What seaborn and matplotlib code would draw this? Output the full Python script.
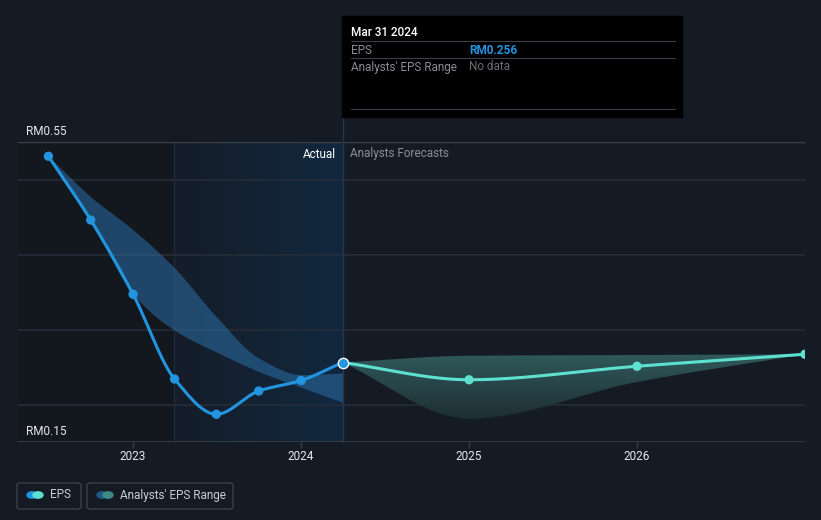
#!/usr/bin/env python3
"""EPS history and analyst forecast chart (dark theme)."""

import matplotlib

matplotlib.use("Agg")

import matplotlib.pyplot as plt
import numpy as np
import seaborn as sns
from matplotlib.patches import FancyBboxPatch, Rectangle, Circle

# ---- data -------------------------------------------------------------
hist_dates = [2022.496, 2022.748, 2023.0, 2023.247, 2023.496, 2023.748, 2024.0, 2024.247]
hist_eps = [0.531, 0.446, 0.347, 0.234, 0.187, 0.218, 0.232, 0.256]
hist_range_low = [0.531, 0.446, 0.347, 0.299, 0.270, 0.244, 0.223, 0.203]
hist_range_high = [0.531, 0.477, 0.433, 0.382, 0.317, 0.262, 0.240, 0.242]

fc_dates = [2024.247, 2025.0, 2026.0, 2027.0]
fc_eps = [0.256, 0.233, 0.251, 0.267]
fc_range_low = [0.256, 0.181, 0.230, 0.267]
fc_range_high = [0.256, 0.265, 0.266, 0.267]

year_ticks = [2023, 2024, 2025, 2026]
y_labels = {0.55: "RM0.55", 0.15: "RM0.15"}

BG = "#151b25"
BLUE = "#2394df"
TEAL = "#5de0cf"
OUTPUT = "out.png"


def monotone_curve(x, y, n=300):
    """Monotone cubic (Fritsch-Carlson) path through the points, for drawing."""
    x = np.asarray(x, float)
    y = np.asarray(y, float)
    h = np.diff(x)
    d = np.diff(y) / h
    m = np.zeros_like(y)
    m[0], m[-1] = d[0], d[-1]
    for i in range(1, len(x) - 1):
        if d[i - 1] * d[i] <= 0:
            m[i] = 0.0
        else:
            w1 = 2 * h[i] + h[i - 1]
            w2 = h[i] + 2 * h[i - 1]
            m[i] = (w1 + w2) / (w1 / d[i - 1] + w2 / d[i])
    xs = np.linspace(x[0], x[-1], n)
    idx = np.clip(np.searchsorted(x, xs) - 1, 0, len(x) - 2)
    t = (xs - x[idx]) / h[idx]
    h00 = 2 * t**3 - 3 * t**2 + 1
    h10 = t**3 - 2 * t**2 + t
    h01 = -2 * t**3 + 3 * t**2
    h11 = t**3 - t**2
    ys = h00 * y[idx] + h10 * h[idx] * m[idx] + h01 * y[idx + 1] + h11 * h[idx] * m[idx + 1]
    return xs, ys


sns.set_theme(style="dark")
plt.rcParams["font.family"] = ["Roboto", "DejaVu Sans"]

fig = plt.figure(figsize=(8.21, 5.2), dpi=100)
fig.patch.set_facecolor(BG)
ax = fig.add_axes([18 / 821, 78 / 520, 787 / 821, 300 / 520])
ax.set_facecolor(BG)

x_min, x_max = 2022.315, 2027.0
ax.set_xlim(x_min, x_max)
ax.set_ylim(0.15, 0.55)

# shaded background regions
split = 2023.244
ax.add_patch(Rectangle((x_min, 0.15), split - x_min, 0.40, color="#13171e", zorder=0, lw=0))
grad = np.linspace(0, 1, 256).reshape(1, -1)
cmap = matplotlib.colors.LinearSegmentedColormap.from_list("hl", ["#151d28", "#12283f"])
ax.imshow(grad, extent=[split, 2024.247, 0.15, 0.55], aspect="auto", cmap=cmap,
          zorder=0.5, interpolation="bicubic")
ax.plot([split, split], [0.15, 0.55], color="#1d2c3d", lw=1, zorder=0.6)

# grid lines
for gy in [0.2, 0.3, 0.4, 0.5]:
    ax.axhline(gy, color="#262d38", lw=1.2, zorder=1)
ax.axhline(0.55, color="#3a404a", lw=1, zorder=1)
ax.axhline(0.15, color="#3a404a", lw=1.2, zorder=1)

# analysts' range, historical
hx, hlo = monotone_curve(hist_dates, hist_range_low)
_, hhi = monotone_curve(hist_dates, hist_range_high)
ax.fill_between(hx, hlo, hhi, color="#2a6ea6", alpha=0.55, lw=0, zorder=2)

# analysts' range, forecast with fade towards the bottom
fx, flo = monotone_curve(fc_dates, fc_range_low)
_, fhi = monotone_curve(fc_dates, fc_range_high)
poly = ax.fill_between(fx, flo, fhi, color="none", lw=0, zorder=2)
vgrad = np.linspace(1, 0, 256).reshape(-1, 1)
fcmap = matplotlib.colors.LinearSegmentedColormap.from_list("fc", ["#1d2e34", "#30595a"])
img = ax.imshow(vgrad, extent=[fc_dates[0], fc_dates[-1], min(fc_range_low), max(fc_range_high)],
                aspect="auto", cmap=fcmap, zorder=2, interpolation="bicubic")
img.set_clip_path(poly.get_paths()[0], transform=ax.transData)

# EPS lines
sx, sy = monotone_curve(hist_dates, hist_eps)
sns.lineplot(x=sx, y=sy, color=BLUE, lw=2.2, ax=ax, zorder=4)
sns.scatterplot(x=hist_dates[:-1], y=hist_eps[:-1], color=BLUE, s=45, edgecolor="none", ax=ax, zorder=5)
tx, ty = monotone_curve(fc_dates, fc_eps)
sns.lineplot(x=tx, y=ty, color=TEAL, lw=2.2, ax=ax, zorder=4)
sns.scatterplot(x=fc_dates[1:], y=fc_eps[1:], color=TEAL, s=45, edgecolor="none", ax=ax, zorder=5)
ax.scatter([hist_dates[-1]], [hist_eps[-1]], s=55, color=BLUE, edgecolor="white", lw=1.0, zorder=6)

# vertical cursor line reaching up to the tooltip
ax.plot([2024.247, 2024.247], [0.15, 0.582], color="#25354a", lw=1, zorder=3, clip_on=False)

ax.text(2024.21, 0.534, "Actual", color="white", fontsize=8.5, ha="right", va="center", zorder=7)
ax.text(2024.29, 0.534, "Analysts Forecasts", color="#8a8f98", fontsize=8.5, ha="left", va="center", zorder=7)

for val, lab in y_labels.items():
    ax.text(2022.363, val + 0.0145, lab, color="#e6e8eb", fontsize=8.5, ha="left", va="center")

ax.set_xticks(year_ticks)
ax.set_xticklabels([str(y) for y in year_ticks])
ax.tick_params(axis="x", colors="#3a404a", labelcolor="#e6e8eb", labelsize=8.5, length=4,
               width=1, direction="out", bottom=True, pad=2)
ax.set_yticks([])
ax.set_xlabel("")
ax.set_ylabel("")
ax.grid(False)
for sp in ax.spines.values():
    sp.set_visible(False)
if ax.get_legend():
    ax.get_legend().remove()


# tooltip box (figure pixel coordinates)
def px(x, y):
    return x / 821, 1 - y / 520


tip = Rectangle(px(342, 117), 340 / 821, 101 / 520, transform=fig.transFigure, color="black", zorder=1)
fig.patches.append(tip)
for ly in [41, 58, 109]:
    fig.lines.append(plt.Line2D([351 / 821, 675 / 821], [1 - ly / 520] * 2, transform=fig.transFigure,
                                color="#3c3f44", lw=0.8, zorder=2))
tkw = dict(fontsize=8.5, va="center", zorder=12)
fig.text(*px(351, 32), "Mar 31 2024", color="white", fontweight="medium", **tkw)
fig.text(*px(351, 50), "EPS", color="#8a8d92", **tkw)
fig.text(*px(469, 50), "RM0.256", color=BLUE, fontweight="bold", **tkw)
fig.text(*px(351, 67), "Analysts' EPS Range", color="#8a8d92", **tkw)
fig.text(*px(469, 67), "No data", color="#6a6d72", **tkw)

# legend pills
for x0, w in [(17, 64), (87, 146)]:
    fig.patches.append(FancyBboxPatch(px(x0, 509), w / 821, 26 / 520, transform=fig.transFigure,
                                      boxstyle="round,pad=0,rounding_size=0.004", fc="none",
                                      ec="#3a404a", lw=1))
for cx, col in [(32, BLUE), (38, TEAL), (102, "#1f5a8a"), (108, "#3e8a84")]:
    fig.patches.append(Circle(px(cx, 495), 5 / 821, transform=fig.transFigure, color=col))
fig.text(*px(50, 495), "EPS", color="#c8ccd2", fontsize=8.5, va="center")
fig.text(*px(120, 495), "Analysts' EPS Range", color="#c8ccd2", fontsize=8.5, va="center")

fig.savefig(OUTPUT, dpi=100, facecolor=BG)
plt.close(fig)
